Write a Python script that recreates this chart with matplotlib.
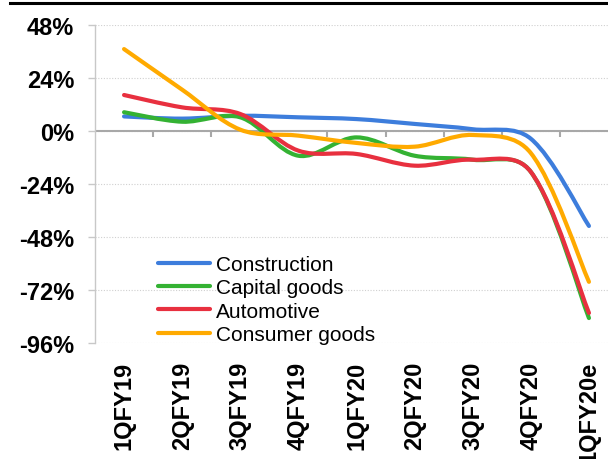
import matplotlib
matplotlib.use("Agg")
import matplotlib.pyplot as plt
from matplotlib.path import Path
from matplotlib.patches import PathPatch
from matplotlib.lines import Line2D
import numpy as np

plt.rcParams['font.family'] = ['Liberation Sans', 'DejaVu Sans']

categories = ["1QFY19", "2QFY19", "3QFY19", "4QFY19", "1QFY20",
              "2QFY20", "3QFY20", "4QFY20", "1QFY20e"]
construction = [6.6, 5.6, 6.9, 6.2, 5.4, 3.2, 0.8, -3.5, -43.0]
capital_goods = [8.5, 4.2, 6.2, -11.2, -2.9, -11.2, -13.0, -18.5, -84.7]
automotive = [16.3, 10.7, 7.7, -8.9, -10.4, -15.7, -13.0, -18.5, -82.4]
consumer_goods = [37.1, 18.7, 0.6, -2.1, -5.4, -7.1, -1.8, -10.0, -68.3]

series_names = ["Construction", "Capital goods", "Automotive", "Consumer goods"]
series_values = [construction, capital_goods, automotive, consumer_goods]
colors = ["#3D7DDC", "#34B233", "#E8303F", "#FFAA00"]
yticks = [48, 24, 0, -24, -48, -72, -96]

W, H = 608, 460
fig = plt.figure(figsize=(W / 100, H / 100), dpi=100)
ax = fig.add_axes([95 / W, (H - 344) / H, (618 - 95) / W, (344 - 26) / H])

# pixel scale used for spreadsheet-style smoothing
SX = 58.25   # px per category
SY = 2.208   # px per percent point


def smooth_path(xs, ys):
    n = len(xs)
    px = [v * SX for v in xs]
    py = [v * SY for v in ys]
    fwd, back = [], []
    for i in range(n):
        im = max(i - 1, 0)
        ip = min(i + 1, n - 1)
        dx, dy = px[ip] - px[im], py[ip] - py[im]
        lp = np.hypot(px[i] - px[im], py[i] - py[im])
        ln = np.hypot(px[ip] - px[i], py[ip] - py[i])
        if i == 0 or i == n - 1:
            fk = bk = 1 / 6
        else:
            tot = lp + ln
            fk = 0.5 / 6 + 0.5 * (ln / tot) / 3
            bk = 0.5 / 6 + 0.5 * (lp / tot) / 3
        fwd.append((px[i] + dx * fk, py[i] + dy * fk))
        back.append((px[i] - dx * bk, py[i] - dy * bk))
    verts = [(xs[0], ys[0])]
    codes = [Path.MOVETO]
    for i in range(n - 1):
        c1 = (fwd[i][0] / SX, fwd[i][1] / SY)
        c2 = (back[i + 1][0] / SX, back[i + 1][1] / SY)
        verts += [c1, c2, (xs[i + 1], ys[i + 1])]
        codes += [Path.CURVE4] * 3
    return Path(verts, codes)


x = np.arange(len(categories))
handles = []
for name, vals, col in zip(series_names, series_values, colors):
    p = PathPatch(smooth_path(list(x), list(vals)), facecolor='none',
                  edgecolor=col, lw=3.0, capstyle='round', joinstyle='round',
                  zorder=3)
    ax.add_patch(p)
    handles.append(Line2D([0], [0], color=col, lw=3.0, solid_capstyle='round'))

ax.set_xlim(-0.5, len(categories) - 0.5)
ax.set_ylim(-96, 48)

for s in ['top', 'right', 'bottom']:
    ax.spines[s].set_visible(False)
ax.spines['left'].set_color('#C8C8C8')
ax.spines['left'].set_linewidth(1.0)

ax.set_yticks(yticks)
ax.set_yticklabels([f"{v}%" for v in yticks], fontsize=17, fontweight='bold')
ax.tick_params(axis='y', length=5, width=1, color='#C8C8C8', pad=10)
ax.yaxis.grid(True, linestyle=(0, (1, 1.5)), color='#D0D0D0', lw=0.8)
ax.set_axisbelow(True)

ax.set_xticks(x)
ax.set_xticklabels(categories, rotation=90, fontsize=17, fontweight='bold',
                   va='top', ha='center')
ax.tick_params(axis='x', length=0, pad=13)

# zero line with category separator ticks
ax.axhline(0, color='#A8A8A8', lw=1.5, zorder=2)
bounds = np.arange(0.5, len(categories) - 0.5, 1.0)
ax.vlines(bounds, -2.6, 0, color='#A8A8A8', lw=1.5, zorder=2)

leg = fig.legend(handles, series_names, loc='upper left',
                 bbox_to_anchor=(158 / W, 1 - 256 / H), frameon=False,
                 fontsize=15, handlelength=2.5, handletextpad=0.3,
                 labelspacing=0.21, borderpad=0, borderaxespad=0)

fig.add_artist(Line2D([10 / W, 1.0], [1 - 3.5 / H, 1 - 3.5 / H],
                      color='black', lw=2.2, transform=fig.transFigure))

fig.savefig("out.png", dpi=100)
